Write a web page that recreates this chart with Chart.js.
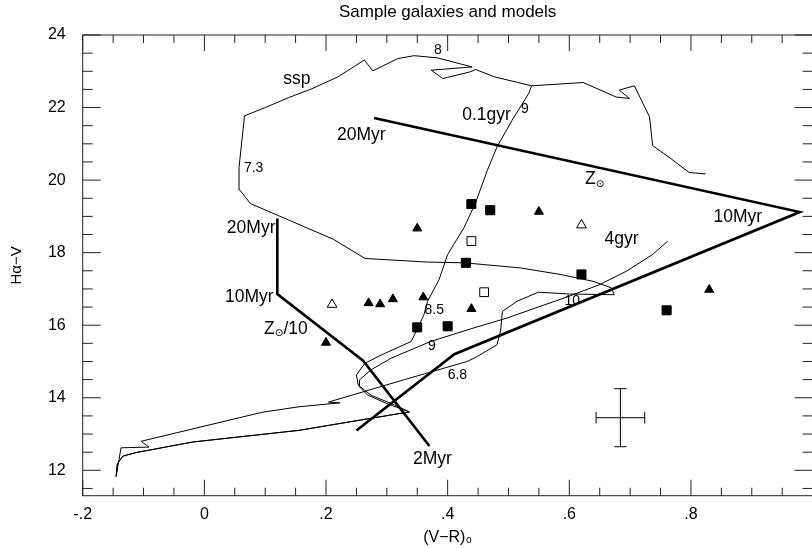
<!DOCTYPE html>
<html>
<head>
<meta charset="utf-8">
<title>Sample galaxies and models</title>
<script src="https://cdn.jsdelivr.net/npm/chart.js@4.4.1/dist/chart.umd.min.js"></script>
<style>
  html, body { margin:0; padding:0; background:#fff; overflow:hidden; }
  canvas { display:block; }
</style>
</head>
<body>
<canvas id="chart" width="820" height="548" style="width:820px;height:548px"></canvas>
<script>
// ssp track (solar)
var sspX = [-0.145,-0.137,-0.091,-0.104,0.095,0.155,0.223,0.204,0.329,0.432,0.449,0.481,0.487,0.49,0.514,0.549,0.60,0.674,
  0.669,0.639,0.585,0.519,0.427,0.367,0.264,0.212,0.076,0.058,0.057,0.066,0.10,0.138,0.177,0.22,0.263,0.277,0.318,0.345,
  0.383,0.44,0.373,0.392,0.436,0.446,0.476,0.538,0.623,0.677,0.699,0.682,0.707,0.732,0.737,0.764,0.797,0.824]
var sspY = [11.83,12.62,12.64,12.80,13.60,13.75,13.86,13.88,14.50,15.00,15.14,15.46,15.83,16.38,16.66,16.91,16.86,16.84,
  17.03,17.21,17.40,17.58,17.72,17.74,17.84,18.37,19.35,19.73,20.35,21.77,22.0,22.27,22.52,22.85,23.31,23.01,23.35,23.43,
  23.37,23.12,23.03,22.80,22.98,23.05,22.85,22.60,22.69,22.29,22.25,22.48,22.60,21.74,20.95,20.63,20.21,20.17]

// continuous star formation, 0.1 gyr
var gyr01X = [-0.145,-0.143,-0.134,-0.112,-0.019,0.155,0.337,0.313,0.274,0.253,0.25,0.264,0.291,0.34,0.351,0.361,0.367,
  0.386,0.40,0.427,0.446,0.465,0.481,0.506,0.533,0.538]
var gyr01Y = [11.83,12.18,12.39,12.49,12.78,13.10,13.61,13.80,14.07,14.35,14.63,14.95,15.18,15.55,15.92,16.29,16.66,
  17.26,17.95,18.69,19.38,20.26,20.91,21.65,22.38,22.60]

// continuous star formation, 4 gyr
var gyr4X = [-0.145,-0.143,-0.134,-0.112,-0.019,0.155,0.337,0.30,0.268,0.255,0.255,0.274,0.307,0.372,0.438,0.498,0.547,
  0.60,0.65,0.694,0.737,0.762]
var gyr4Y = [11.83,12.18,12.39,12.49,12.78,13.10,13.61,13.84,14.08,14.30,14.49,14.77,15.09,15.55,15.90,16.20,16.49,
  16.80,17.12,17.49,17.95,18.32]

// bursts, 20Myr -> 10Myr -> 2Myr
var zsunX = [0.279,0.979,0.411,0.25]
var zsunY = [21.71,19.12,15.20,13.10]
var z10X = [0.12,0.12,0.261,0.37]
var z10Y = [18.94,16.86,15.02,12.67]

// sample galaxies
var triX = [0.2,0.27,0.289,0.31,0.36,0.35,0.439,0.55,0.83]
var triY = [15.52,16.61,16.58,16.72,16.77,18.67,16.45,19.13,16.98]
var openTriX = [0.21,0.62]
var openTriY = [16.57,18.76]
var sqX = [0.439,0.47,0.43,0.62,0.35,0.40,0.76]
var sqY = [19.34,19.17,17.72,17.40,15.94,15.97,16.41]
var openSqX = [0.439,0.46]
var openSqY = [18.32,16.91]

// typical error
var errX = [0.684]
var errY = [13.45]
var errDx = [0.04]
var errDy = [0.8]

var xTicks = [-0.2,0,0.2,0.4,0.6,0.8]
var xTickLabels = ['-.2','0','.2','.4','.6','.8']
var yTicks = [12,14,16,18,20,22,24]
var yTickLabels = ['12','14','16','18','20','22','24']

// labels in the plot, '_' puts the next character as subscript
var noteText = ['ssp','20Myr','7.3','8','9','0.1gyr','Z_⊙','10Myr','4gyr','20Myr','10Myr','Z_⊙/10','8.5','9','6.8','10','2Myr']
var noteX = [0.152,0.258,0.081,0.384,0.527,0.464,0.642,0.877,0.686,0.077,0.074,0.134,0.378,0.374,0.416,0.605,0.375]
var noteY = [22.77,21.24,20.32,23.57,21.96,21.78,20.02,18.98,18.36,18.67,16.76,15.90,16.42,15.43,14.63,16.66,12.30]

var FONT = "'Liberation Sans', Arial, Helvetica, 'DejaVu Sans', sans-serif"
var CAPX = 0.01, CAPY = 0.16

function pts(xs, ys) {
  return xs.map(function(x, i){ return {x: x, y: ys[i]} })
}

var errPts = []
errX.forEach(function(cx, i){
  var cy = errY[i], dx = errDx[i], dy = errDy[i]
  errPts.push(
    {x:cx-dx, y:cy}, {x:cx+dx, y:cy}, {x:cx, y:null},
    {x:cx, y:cy-dy}, {x:cx, y:cy+dy}, {x:cx, y:null},
    {x:cx-dx, y:cy-CAPY}, {x:cx-dx, y:cy+CAPY}, {x:cx, y:null},
    {x:cx+dx, y:cy-CAPY}, {x:cx+dx, y:cy+CAPY}, {x:cx, y:null},
    {x:cx-CAPX, y:cy-dy}, {x:cx+CAPX, y:cy-dy}, {x:cx, y:null},
    {x:cx-CAPX, y:cy+dy}, {x:cx+CAPX, y:cy+dy})
})

function drawNote(ctx, text, x, y, size) {
  var parts = [], i = 0
  while (i < text.length) {
    if (text[i] === '_') { parts.push({t: text[i+1], sub: true}); i += 2 }
    else {
      var j = text.indexOf('_', i)
      if (j < 0) j = text.length
      parts.push({t: text.slice(i, j), sub: false})
      i = j
    }
  }
  var w = 0
  parts.forEach(function(p){
    ctx.font = (p.sub ? size * 0.6 : size) + 'px ' + FONT
    p.w = ctx.measureText(p.t).width
    w += p.w
  })
  var cx = x - w / 2
  parts.forEach(function(p){
    ctx.font = (p.sub ? size * 0.6 : size) + 'px ' + FONT
    ctx.fillText(p.t, cx, p.sub ? y + size * 0.25 : y)
    cx += p.w
  })
}

var frame = {
  id: 'frame',
  afterDatasetsDraw: function(chart) {
    var ctx = chart.ctx, a = chart.chartArea, sx = chart.scales.x, sy = chart.scales.y
    ctx.save()
    ctx.strokeStyle = '#222'
    ctx.lineWidth = 1
    ctx.strokeRect(a.left, a.top, a.right - a.left, a.bottom - a.top)
    ctx.beginPath()
    for (var k = 0; k <= 24; k++) {
      var v = -0.2 + k * 0.05
      var px = sx.getPixelForValue(v)
      var len = (k % 4 === 0) ? 16 : 8
      ctx.moveTo(px, a.bottom); ctx.lineTo(px, a.bottom - len)
      ctx.moveTo(px, a.top); ctx.lineTo(px, a.top + len)
    }
    for (var m = 23; m <= 48; m++) {
      var w = m * 0.5
      var py = sy.getPixelForValue(w)
      var l2 = (m % 4 === 0) ? 18 : 10
      ctx.moveTo(a.left, py); ctx.lineTo(a.left + l2, py)
      ctx.moveTo(a.right, py); ctx.lineTo(a.right - l2, py)
    }
    ctx.stroke()

    ctx.fillStyle = '#000'
    ctx.textBaseline = 'middle'
    ctx.textAlign = 'left'
    noteText.forEach(function(t, i){
      var small = /^[0-9.]+$/.test(t)
      drawNote(ctx, t, sx.getPixelForValue(noteX[i]), sy.getPixelForValue(noteY[i]), small ? 14 : 17.5)
    })
    ctx.restore()
  }
}

var line = function(data, width) {
  return { data: data, showLine: true, borderColor: '#000', borderWidth: width, pointRadius: 0, tension: 0, fill: false, spanGaps: false }
}

var ctx = document.getElementById('chart').getContext('2d')
var chart = new Chart(ctx, {
  type: 'scatter',
  data: {
    datasets: [
      { data: pts(triX, triY), pointStyle: 'triangle', pointRadius: 5.2, backgroundColor: '#000', borderColor: '#000', borderWidth: 1 },
      { data: pts(openTriX, openTriY), pointStyle: 'triangle', pointRadius: 5.6, backgroundColor: '#fff', borderColor: '#000', borderWidth: 1 },
      { data: pts(sqX, sqY), pointStyle: 'rect', pointRadius: 6.4, backgroundColor: '#000', borderColor: '#000', borderWidth: 1 },
      { data: pts(openSqX, openSqY), pointStyle: 'rect', pointRadius: 6.2, backgroundColor: '#fff', borderColor: '#000', borderWidth: 1 },
      line(pts(zsunX, zsunY), 2.6),
      line(pts(z10X, z10Y), 2.6),
      line(errPts, 1),
      line(pts(sspX, sspY), 1),
      line(pts(gyr01X, gyr01Y), 1),
      line(pts(gyr4X, gyr4Y), 1)
    ]
  },
  options: {
    responsive: false,
    animation: false,
    events: [],
    devicePixelRatio: 1,
    layout: { padding: { left: 0, right: 2.3, top: 0, bottom: 0 } },
    font: { family: FONT },
    plugins: {
      legend: { display: false },
      tooltip: { enabled: false },
      title: {
        display: true, text: 'Sample galaxies and models', color: '#000', fullSize: false,
        font: { family: FONT, size: 17, weight: 'normal' }, padding: { top: 2.6, bottom: 12 }
      }
    },
    scales: {
      x: {
        type: 'linear', min: -0.2, max: 1.0,
        grid: { display: false }, border: { display: false },
        afterBuildTicks: function(s){ s.ticks = xTicks.map(function(v){ return {value: v} }) },
        afterFit: function(s){ s.height = 52.3 },
        ticks: {
          autoSkip: false, maxRotation: 0, padding: 1.5, color: '#000', font: { family: FONT, size: 16 },
          callback: function(v, i){ return xTickLabels[i] }
        },
        title: { display: true, text: '(V−R)₀', color: '#000', font: { family: FONT, size: 16 }, padding: { top: 0, bottom: 1 } }
      },
      y: {
        type: 'linear', min: 11.3, max: 24,
        grid: { display: false }, border: { display: false },
        afterBuildTicks: function(s){ s.ticks = yTicks.map(function(v){ return {value: v} }) },
        afterFit: function(s){ s.width = 82.7 },
        ticks: {
          autoSkip: false, padding: 9, color: '#000', font: { family: FONT, size: 16 },
          callback: function(v, i){ return yTickLabels[i] }
        },
        title: { display: true, text: 'Hα−V', color: '#000', font: { family: FONT, size: 15 }, padding: { top: 8, bottom: 0 } }
      }
    }
  },
  plugins: [frame]
})
</script>
</body>
</html>
